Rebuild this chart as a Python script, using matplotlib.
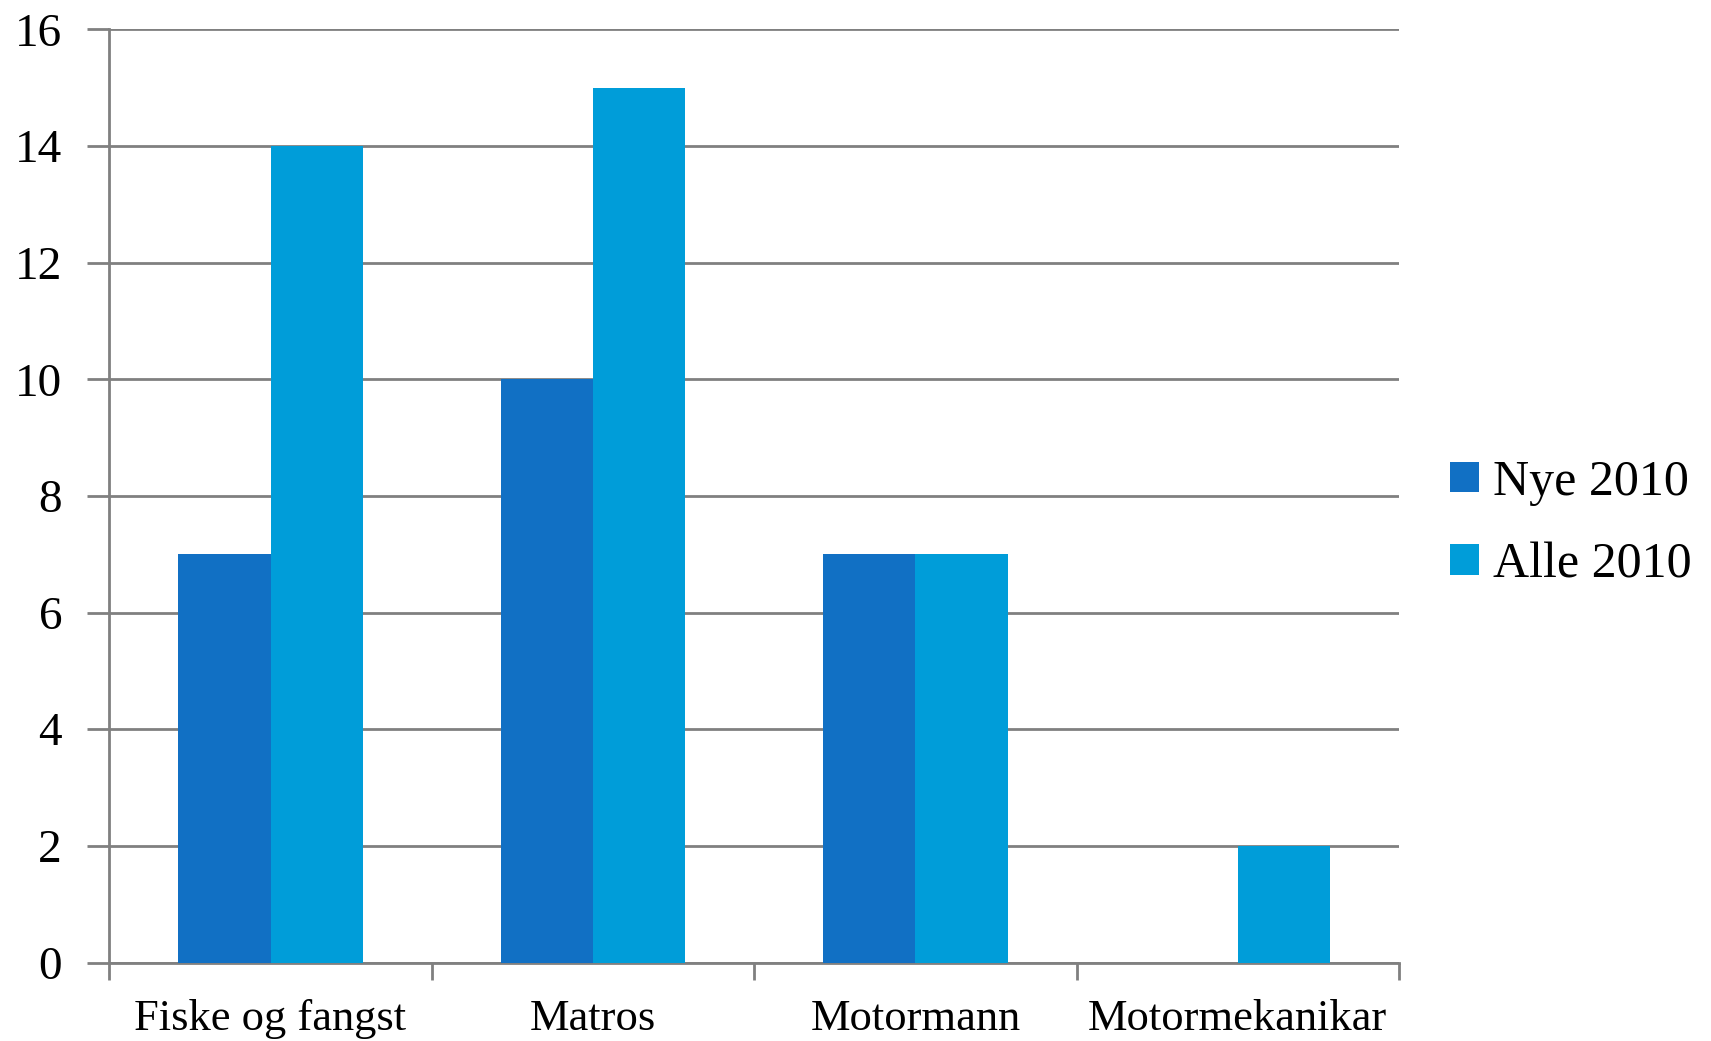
import numpy as np
import matplotlib.pyplot as plt

categories = ["Fiske og fangst", "Matros", "Motormann", "Motormekanikar"]
nye_2010 = [7, 10, 7, 0]
alle_2010 = [14, 15, 7, 2]
series_names = ["Nye 2010", "Alle 2010"]
colors = ["#1170C4", "#009DD9"]
yticks = [0, 2, 4, 6, 8, 10, 12, 14, 16]

plt.rcParams["font.family"] = ["Liberation Serif", "DejaVu Serif"]

fig = plt.figure(figsize=(17.11, 10.41), dpi=100)
ax = fig.add_axes([0.0639, 0.0754, 0.8177 - 0.0639, 0.9717 - 0.0754])

x = np.arange(len(categories))
w = 0.286
ax.bar(x - w / 2, nye_2010, w, color=colors[0], label=series_names[0], zorder=3)
ax.bar(x + w / 2, alle_2010, w, color=colors[1], label=series_names[1], zorder=3)

ax.set_xlim(-0.5, len(categories) - 0.5)
ax.set_ylim(0, 16)
ax.set_yticks(yticks)
ax.set_yticklabels([str(t) for t in yticks], fontsize=34)

# category labels centered, ticks at boundaries
ax.set_xticks(x)
ax.set_xticklabels(categories, fontsize=32)
ax.tick_params(axis="x", length=0, pad=26)
ax.set_xticks(np.arange(len(categories) + 1) - 0.5, minor=True)
ax.tick_params(axis="x", which="minor", length=12, width=2, color="#808080")
ax.tick_params(axis="y", length=16, width=2, color="#808080", pad=18)

ax.grid(axis="y", color="#808080", linewidth=2, zorder=0)
for s in ["top", "right"]:
    ax.spines[s].set_visible(False)
for s in ["left", "bottom"]:
    ax.spines[s].set_color("#808080")
    ax.spines[s].set_linewidth(2)

fig.legend(loc="center left", bbox_to_anchor=(0.8475, 0.497), frameon=False,
           fontsize=36, handlelength=0.57, handleheight=0.57, borderpad=0,
           borderaxespad=0, handletextpad=0.28, labelspacing=0.72)

fig.savefig("out.png", dpi=100, facecolor="white")
